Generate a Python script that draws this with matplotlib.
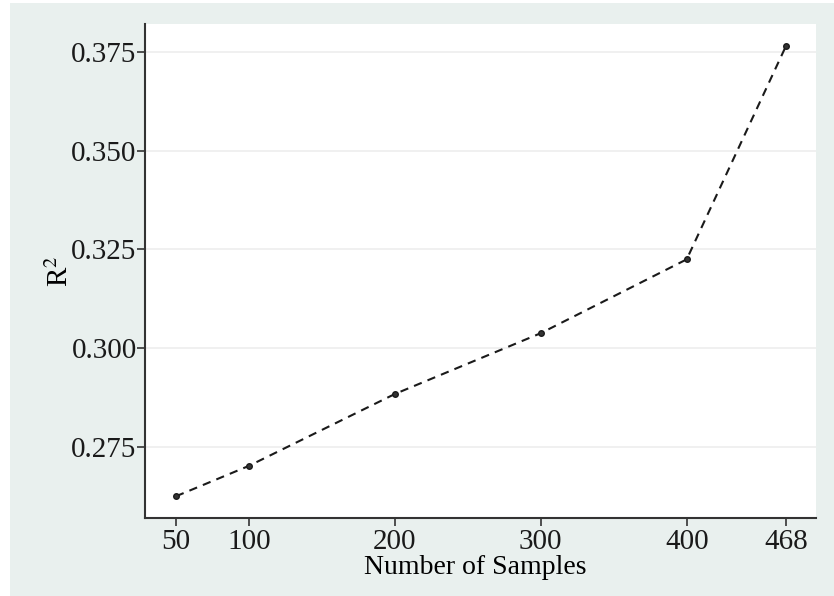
import matplotlib
matplotlib.use("Agg")
import matplotlib.pyplot as plt
from matplotlib.patches import Rectangle

# data
n_samples = [50, 100, 200, 300, 400, 468]
r2 = [0.2625, 0.2702, 0.2884, 0.3038, 0.3225, 0.3765]
y_ticks = [0.275, 0.300, 0.325, 0.350, 0.375]

plt.rcParams['font.family'] = ['Liberation Serif', 'DejaVu Serif']
plt.rcParams['mathtext.fontset'] = 'stix'

fig = plt.figure(figsize=(8.34, 5.96), dpi=100)
fig.patch.set_facecolor('white')
# light stata-like background band, behind the axes
bg = Rectangle((10 / 834, 0), 1 - 10 / 834, 1 - 3 / 596,
               transform=fig.transFigure, facecolor='#e9f0ee',
               edgecolor='none', zorder=-1)
fig.patches.append(bg)

ax = fig.add_axes([145 / 834, 1 - 518 / 596, (816 - 145) / 834, (518 - 24) / 596])
ax.set_zorder(1)
ax.set_facecolor('white')

ax.plot(n_samples, r2, linestyle='--', color='#1a1a1a', linewidth=1.5,
        dashes=(4, 3), marker='o', markersize=4, markerfacecolor='#333333',
        markeredgecolor='#1a1a1a', zorder=3)

ax.set_xlim(28.8, 488.6)
ax.set_ylim(0.2570, 0.3821)
ax.set_xticks(n_samples)
ax.set_yticks(y_ticks)
ax.set_yticklabels([f'{v:.3f}' for v in y_ticks])

ax.grid(axis='y', color='#eeeeee', linewidth=1.2)
ax.set_axisbelow(True)

for side in ['top', 'right']:
    ax.spines[side].set_visible(False)
for side in ['left', 'bottom']:
    ax.spines[side].set_color('#333333')
    ax.spines[side].set_linewidth(1.5)

ax.tick_params(axis='both', direction='out', length=6, width=1.2,
               colors='#333333', labelsize=21, labelcolor='#1a1a1a')
ax.tick_params(axis='x', pad=2)
ax.tick_params(axis='y', pad=0)

ax.set_xlabel('Number of Samples', fontsize=20, labelpad=0)
ax.xaxis.label.set_x(0.492)
ax.set_ylabel('R$^2$', fontsize=21, labelpad=-2)

fig.savefig('out.png', dpi=100, facecolor=fig.get_facecolor())
